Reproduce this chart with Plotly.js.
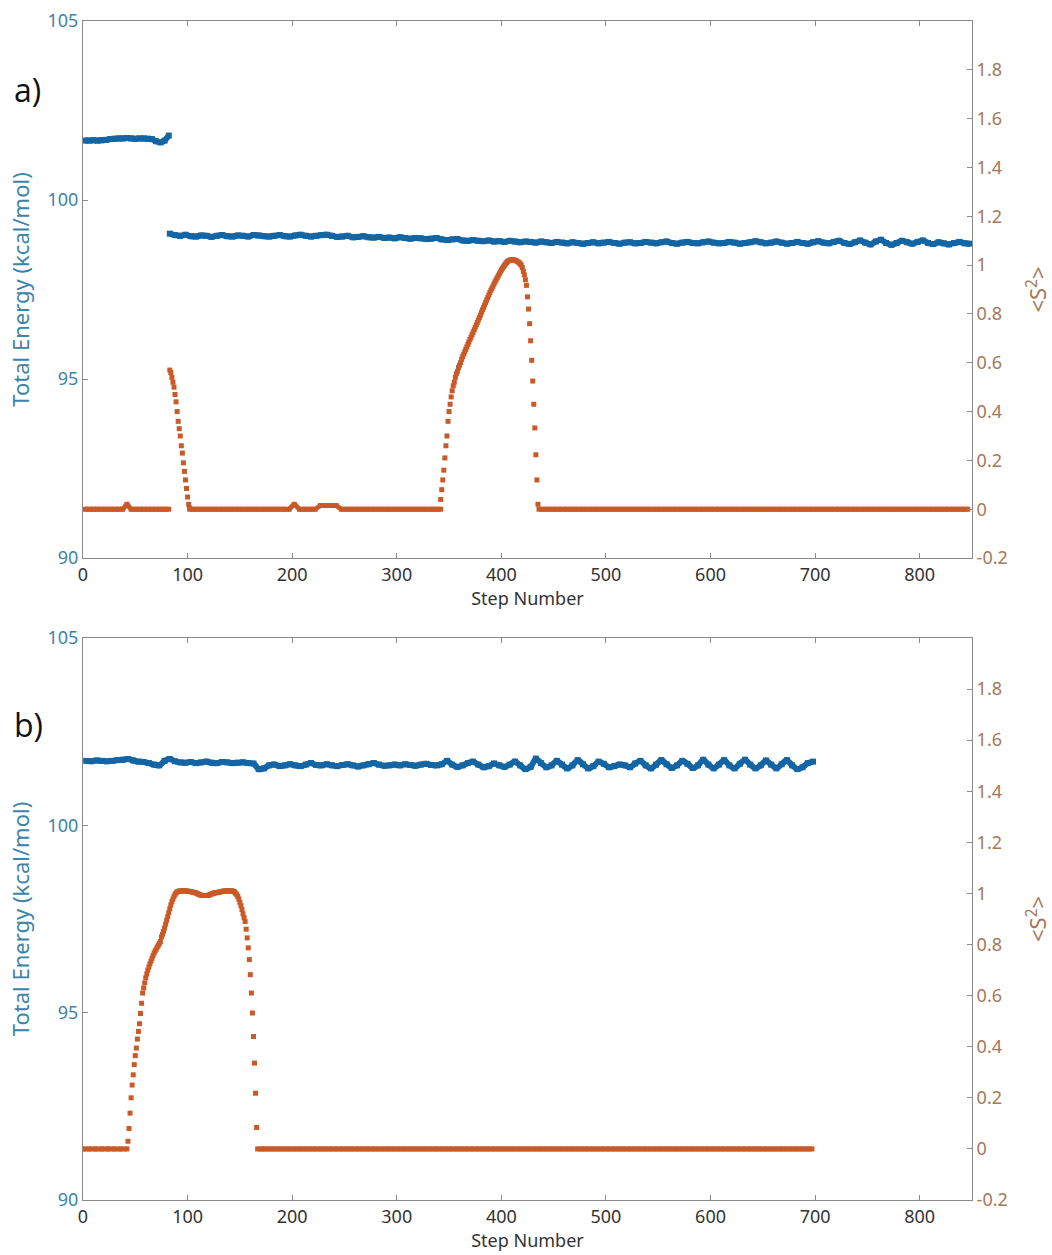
<!DOCTYPE html>
<html>
<head>
<meta charset="utf-8">
<script src="https://cdn.plot.ly/plotly-3.0.1.min.js"></script>
<style>html,body{margin:0;padding:0;background:#fff;}#chart{width:1052px;height:1255px;}</style>
</head>
<body>
<div id="chart"></div>
<script>
// ---------- DATA ----------
var xTickVals = [0,100,200,300,400,500,600,700,800];
var eTickVals = [90,95,100,105];
var sTickVals = [-0.2,0,0.2,0.4,0.6,0.8,1,1.2,1.4,1.6,1.8];
var sTickText = ["-0.2","0","0.2","0.4","0.6","0.8","1","1.2","1.4","1.6","1.8"];

// Panel a) total energy
var energyA1 = [101.66,101.66,101.67,101.66,101.67,101.68,101.70,101.71,101.72,101.72,
                101.73,101.72,101.71,101.72,101.72,101.71,101.70,101.64,101.61,101.66,101.80]; // steps 2..82 by 4
var energyA2 = [99.06,99.02,99.00,99.03,98.99,98.98,99.01,99.00,98.97,99.00,
                99.02,98.99,98.98,99.01,99.00,98.98,99.02,99.01,98.99,98.98,
                99.00,99.02,98.99,98.98,99.01,99.03,99.00,98.98,99.00,99.02,
                99.03,99.00,98.97,98.98,99.00,98.96,98.97,98.99,98.96,98.95,
                98.97,98.94,98.95,98.93,98.96,98.94,98.92,98.94,98.93,98.91,
                98.92,98.94,98.90,98.88,98.90,98.91,98.87,98.86,98.88,98.86,
                98.85,98.87,98.84,98.85,98.83,98.86,98.84,98.82,98.84,98.83,
                98.81,98.84,98.82,98.80,98.83,98.81,98.79,98.82,98.80,98.78,
                98.80,98.82,98.79,98.81,98.83,98.80,98.78,98.81,98.82,98.79,
                98.80,98.83,98.81,98.79,98.82,98.84,98.80,98.78,98.81,98.83,
                98.80,98.79,98.82,98.84,98.81,98.79,98.80,98.83,98.81,98.78,
                98.80,98.82,98.85,98.82,98.79,98.81,98.84,98.81,98.78,98.80,
                98.83,98.80,98.78,98.82,98.85,98.81,98.79,98.83,98.86,98.80,
                98.77,98.82,98.87,98.81,98.76,98.84,98.89,98.80,98.75,98.80,
                98.86,98.82,98.78,98.83,98.87,98.80,98.77,98.82,98.79,98.76,
                98.80,98.83,98.79,98.78]; // steps 83..848 by 5

// Panel a) <S^2>
var spinA1 = [0,0,0,0,0,0,0,0,0,0,0.02,0,0,0,0,0,0,0,0,0,0]; // steps 2..82 by 4
var spinA2 = [0.57,0.56,0.54,0.52,0.50,0.47,0.44,0.40,0.36,0.33,
              0.30,0.26,0.23,0.19,0.155,0.12,0.085,0.05,0.02,0.005]; // steps 83..102
var spinA3 = [0,0,0,0,0,0,0,0,0,0,
              0,0,0,0,0,0,0,0,0,0,
              0.02,0,0,0,0,0.015,0.015,0.015,0.015,0,
              0,0,0,0,0,0,0,0,0,0,
              0,0,0,0,0,0,0,0,0]; // steps 102..342 by 5
var spinA4 = [0.04,0.08,0.12,0.16,0.21,0.26,0.30,0.36,0.40,0.43,
              0.46,0.485,0.505,0.52,0.54,0.555,0.565,0.58,0.59,0.60,
              0.614,0.625,0.635,0.645,0.655,0.665,0.675,0.685,0.695,0.705,
              0.715,0.725,0.735,0.745,0.755,0.765,0.775,0.785,0.795,0.807,
              0.817,0.827,0.837,0.847,0.857,0.867,0.877,0.887,0.897,0.905,
              0.914,0.923,0.932,0.94,0.948,0.956,0.964,0.972,0.98,0.987,
              0.993,0.999,1.005,1.01,1.015,1.018,1.02,1.021,1.022,1.022,
              1.021,1.02,1.018,1.016,1.013,1.01,1.005,1.0,0.99,0.975,
              0.96,0.94,0.917,0.87,0.82,0.76,0.69,0.61,0.525,0.43,
              0.333,0.223,0.12,0.02]; // steps 342..435
var spinA5 = [0,0,0,0,0,0,0,0,0,0, 0,0,0,0,0,0,0,0,0,0,
              0,0,0,0,0,0,0,0,0,0, 0,0,0,0,0,0,0,0,0,0,
              0,0,0,0,0,0,0,0,0,0, 0,0,0,0,0,0,0,0,0,0,
              0,0,0,0,0,0,0,0,0,0, 0,0,0,0,0,0,0,0,0,0,
              0,0,0]; // steps 436..846 by 5

// Panel b) total energy
var energyB = [101.72,101.71,101.73,101.72,101.71,101.72,101.74,101.75,101.77,101.73,
               101.70,101.69,101.66,101.62,101.60,101.72,101.77,101.71,101.68,101.67,
               101.69,101.66,101.68,101.70,101.67,101.66,101.69,101.68,101.66,101.67,
               101.68,101.66,101.65,101.50,101.52,101.60,101.62,101.58,101.60,101.63,
               101.60,101.58,101.62,101.66,101.61,101.60,101.63,101.60,101.58,101.61,
               101.63,101.60,101.57,101.60,101.63,101.66,101.62,101.59,101.60,101.62,
               101.60,101.63,101.61,101.59,101.62,101.64,101.61,101.60,101.63,101.72,
               101.62,101.56,101.60,101.66,101.70,101.62,101.55,101.58,101.65,101.60,
               101.56,101.62,101.70,101.60,101.50,101.56,101.78,101.66,101.55,101.60,
               101.72,101.62,101.52,101.60,101.74,101.63,101.52,101.58,101.70,101.64,
               101.55,101.58,101.62,101.60,101.55,101.65,101.72,101.60,101.52,101.62,
               101.74,101.63,101.53,101.60,101.72,101.64,101.53,101.60,101.75,101.62,
               101.52,101.62,101.74,101.60,101.52,101.64,101.75,101.62,101.52,101.60,
               101.73,101.62,101.52,101.63,101.74,101.60,101.50,101.55,101.66,101.70]; // steps 3..698 by 5

// Panel b) <S^2>
var spinB1 = [0,0,0,0,0,0,0,0]; // steps 0..42 by 6
var spinB2 = [0.03,0.08,0.14,0.20,0.25,0.29,0.33,0.365,0.395,0.43,
              0.46,0.49,0.53,0.57,0.61,0.63,0.65,0.67,0.685,0.70,
              0.712,0.724,0.735,0.746,0.757,0.767,0.775,0.782,0.79,0.797,
              0.804,0.812,0.83,0.84,0.852,0.865,0.88,0.895,0.91,0.925,
              0.94,0.955,0.968,0.978,0.988,0.996,1.002,1.006,1.008,1.009,
              1.01,1.01,1.01,1.01,1.01,1.01,1.009,1.009,1.008,1.008,
              1.007,1.006,1.005,1.004,1.003,1.002,1.0,0.998,0.996,0.994,
              0.993,0.992,0.992,0.992,0.992,0.992,0.992,0.993,0.994,0.996,
              0.998,1.0,1.001,1.002,1.003,1.003,1.004,1.005,1.006,1.007,
              1.008,1.009,1.009,1.01,1.01,1.01,1.01,1.01,1.01,1.01,
              1.009,1.008,1.005,1.0,0.995,0.988,0.978,0.965,0.952,0.937,
              0.92,0.905,0.89,0.86,0.826,0.787,0.741,0.682,0.61,0.532,
              0.44,0.336,0.218,0.084]; // steps 43..166
var spinB3 = [0,0,0,0,0,0,0,0,0,0, 0,0,0,0,0,0,0,0,0,0,
              0,0,0,0,0,0,0,0,0,0, 0,0,0,0,0,0,0,0,0,0,
              0,0,0,0,0,0,0,0,0,0, 0,0,0,0,0,0,0,0,0,0,
              0,0,0,0,0,0,0,0,0,0, 0,0,0,0,0,0,0,0,0,0,
              0,0,0,0,0,0,0,0,0,0, 0,0,0,0,0,0,0,0,0,0,
              0,0,0,0,0,0,0]; // steps 167..697 by 5

// ---------- STYLE ----------
var BLUE = '#1365a3';
var ORANGE = '#c95a27';
var LEFTC = '#3d84a8';
var RIGHTC = '#a5785a';
var TICKC = '#333333';
var AXC = '#8a8a8a';
var FONT = 'Noto Sans, DejaVu Sans, sans-serif';

function band(y, x0, dx, xa, ya, color, w){
  return {type:'scatter', mode:'lines+markers', y:y, x0:x0, dx:dx, xaxis:xa, yaxis:ya,
    line:{color:color, width:w, shape:'spline', smoothing:0.6}, marker:{color:color, size:w, symbol:'square'},
    hoverinfo:'skip', showlegend:false, cliponaxis:true};
}
function dots(y, x0, xa, ya, color){
  return {type:'scatter', mode:'markers', y:y, x0:x0, dx:1, xaxis:xa, yaxis:ya,
    marker:{color:color, size:5, symbol:'square'},
    hoverinfo:'skip', showlegend:false, cliponaxis:true};
}

var traces = [
  band(energyA1, 2, 4, 'x', 'y', BLUE, 6),
  band(energyA2, 83, 5, 'x', 'y', BLUE, 6),
  band(spinA1, 2, 4, 'x', 'y2', ORANGE, 5),
  dots(spinA2, 83, 'x', 'y2', ORANGE),
  band(spinA3, 102, 5, 'x', 'y2', ORANGE, 5),
  dots(spinA4, 342, 'x', 'y2', ORANGE),
  band(spinA5, 436, 5, 'x', 'y2', ORANGE, 5),
  band(energyB, 3, 5, 'x2', 'y3', BLUE, 6),
  band(spinB1, 0, 6, 'x2', 'y4', ORANGE, 5),
  dots(spinB2, 43, 'x2', 'y4', ORANGE),
  band(spinB3, 167, 5, 'x2', 'y4', ORANGE, 5)
];

function xAxis(anchor){
  return {anchor:anchor, domain:[0,1], range:[0,850], tickvals:xTickVals,
    ticks:'inside', ticklen:5, tickcolor:AXC, showline:true, linecolor:AXC, linewidth:1,
    mirror:'ticks', showgrid:false, zeroline:false,
    tickfont:{family:FONT, size:18, color:TICKC},
    title:{text:'Step Number', font:{family:FONT, size:18, color:TICKC}, standoff:3}};
}
function leftAxis(domain){
  return {domain:domain, anchor:domain[0]===0?'x2':'x', range:[90,105], tickvals:eTickVals,
    ticks:'inside', ticklen:5, tickcolor:AXC, showline:true, linecolor:AXC, linewidth:1,
    showgrid:false, zeroline:false,
    tickfont:{family:FONT, size:18, color:LEFTC},
    title:{text:'Total Energy (kcal/mol)', font:{family:FONT, size:22, color:LEFTC}, standoff:11}};
}
function rightAxis(over, anchor){
  return {overlaying:over, anchor:anchor, side:'right', range:[-0.2,2.0],
    tickvals:sTickVals, ticktext:sTickText,
    ticks:'inside', ticklen:5, tickcolor:AXC, showline:true, linecolor:AXC, linewidth:1,
    showgrid:false, zeroline:false,
    tickfont:{family:FONT, size:18, color:RIGHTC},
    title:{text:'&lt;S<sup>2</sup>&gt;', font:{family:FONT, size:22, color:RIGHTC}, standoff:26}};
}

var layout = {
  width:1052, height:1255,
  margin:{l:83, r:80, t:21, b:55},
  paper_bgcolor:'#ffffff', plot_bgcolor:'#ffffff',
  showlegend:false, hovermode:false,
  xaxis: xAxis('y'),
  yaxis: leftAxis([0.5445,1]),
  yaxis2: rightAxis('y','x'),
  xaxis2: xAxis('y3'),
  yaxis3: leftAxis([0,0.4767]),
  yaxis4: rightAxis('y3','x2'),
  annotations:[
    {text:'a)', xref:'paper', yref:'paper', x:-0.08, y:0.9415, xanchor:'left', yanchor:'middle',
     showarrow:false, font:{family:'Open Sans, Noto Sans, sans-serif', size:32, color:'#111111'}},
    {text:'b)', xref:'paper', yref:'paper', x:-0.08, y:0.4037, xanchor:'left', yanchor:'middle',
     showarrow:false, font:{family:'Open Sans, Noto Sans, sans-serif', size:32, color:'#111111'}}
  ]
};

Plotly.newPlot('chart', traces, layout, {displayModeBar:false, staticPlot:true});
</script>
</body>
</html>
